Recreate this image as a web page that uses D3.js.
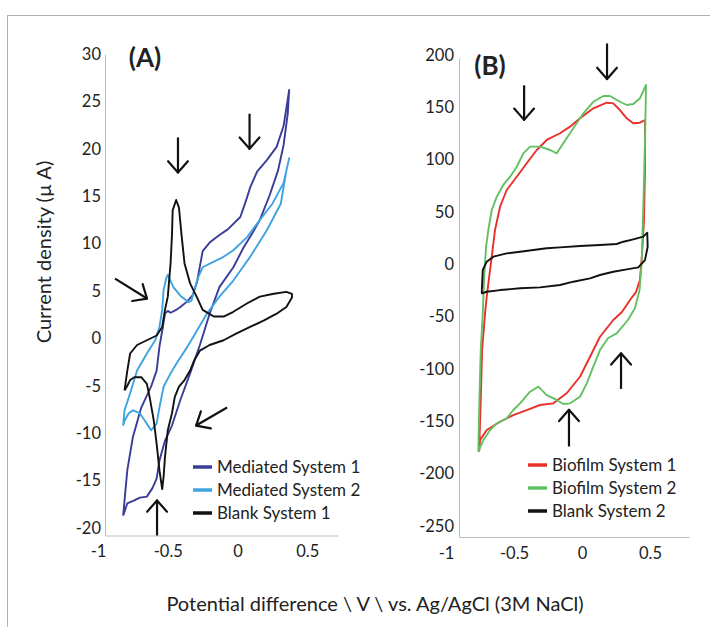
<!DOCTYPE html>
<html>
<head>
<meta charset="utf-8">
<script src="https://cdn.jsdelivr.net/npm/d3@7"></script>
<style>
  body { margin: 0; background: #fff; }
  svg text { font-family: Lato, "Open Sans", sans-serif; fill: #222; }
</style>
</head>
<body>
<svg id="chart" width="710" height="627"></svg>
<script>
// potential (V) vs current
const mediated1 = [
  [-0.82, -18.7], [-0.79, -13.9], [-0.75, -10.4], [-0.69, -7.3], [-0.62, -5.1], [-0.58, -3.4],
  [-0.56, -0.9], [-0.54, 0.8], [-0.52, 2.6], [-0.5, 2.9], [-0.48, 2.7], [-0.44, 3.0], [-0.41, 3.3],
  [-0.36, 3.9], [-0.32, 4.6], [-0.29, 6.0], [-0.27, 7.6], [-0.25, 9.2], [-0.2, 10.1], [-0.13, 10.9],
  [-0.07, 11.5], [0.02, 12.8], [0.06, 14.5], [0.09, 15.9], [0.14, 17.6], [0.21, 18.8], [0.28, 20.2],
  [0.33, 22.4], [0.37, 26.2],
  [0.36, 23.7], [0.33, 20.4], [0.29, 17.7], [0.23, 15.1], [0.16, 12.5], [0.11, 11.2], [0.04, 9.5],
  [-0.03, 7.5], [-0.13, 5.4], [-0.2, 2.6], [-0.27, -0.7], [-0.34, -3.7], [-0.41, -6.5], [-0.47, -9.2],
  [-0.52, -10.8], [-0.56, -12.9], [-0.58, -14.8], [-0.61, -15.8], [-0.65, -16.7], [-0.7, -16.8],
  [-0.74, -17.1], [-0.79, -17.4], [-0.82, -18.7]
];
const mediated2 = [
  [-0.82, -9.2], [-0.81, -7.6], [-0.77, -5.8], [-0.72, -3.4], [-0.65, -1.6], [-0.59, -0.2], [-0.56, 1.2],
  [-0.54, 3.0], [-0.53, 5.1], [-0.51, 6.4], [-0.5, 6.7], [-0.46, 5.4], [-0.41, 4.5], [-0.35, 3.8],
  [-0.33, 4.0], [-0.31, 5.1], [-0.28, 6.5], [-0.25, 7.5], [-0.17, 8.1], [-0.1, 8.6], [-0.03, 9.3],
  [0.07, 10.7], [0.16, 12.5], [0.25, 14.2], [0.33, 16.4], [0.37, 19.0],
  [0.35, 17.7], [0.31, 14.2], [0.21, 11.4], [0.09, 8.6], [-0.03, 6.1], [-0.13, 4.4], [-0.22, 2.6],
  [-0.32, 0.1], [-0.36, -0.9], [-0.44, -2.7], [-0.48, -3.7], [-0.53, -5.1], [-0.56, -7.3], [-0.58, -9.0],
  [-0.62, -9.7], [-0.65, -9.0], [-0.7, -7.9], [-0.75, -7.6], [-0.78, -7.9], [-0.81, -8.7], [-0.82, -9.2]
];
const blank1 = [
  [-0.81, -5.5], [-0.79, -3.4], [-0.77, -1.6], [-0.72, -0.7], [-0.65, -0.2], [-0.58, 0.3], [-0.54, 1.2],
  [-0.52, 3.0], [-0.5, 4.4], [-0.48, 7.9], [-0.47, 10.9], [-0.465, 13.5], [-0.44, 14.6], [-0.42, 13.8],
  [-0.4, 10.7], [-0.38, 7.9], [-0.34, 5.8], [-0.29, 4.3], [-0.25, 3.0], [-0.17, 2.3], [-0.1, 2.3],
  [-0.03, 2.8], [0.07, 3.7], [0.16, 4.4], [0.26, 4.7], [0.35, 4.9], [0.39, 4.7],
  [0.39, 4.3], [0.35, 3.3], [0.28, 2.6], [0.19, 1.9], [0.09, 1.2], [-0.01, 0.5], [-0.1, -0.2],
  [-0.2, -0.7], [-0.27, -1.3], [-0.31, -2.3], [-0.34, -3.4], [-0.38, -4.4], [-0.42, -5.1], [-0.45, -6.2],
  [-0.47, -7.9], [-0.5, -9.7], [-0.52, -12.5], [-0.53, -14.6], [-0.54, -15.9], [-0.56, -13.9],
  [-0.58, -11.1], [-0.6, -8.7], [-0.63, -6.2], [-0.65, -4.8], [-0.69, -4.1], [-0.74, -4.1],
  [-0.77, -4.4], [-0.79, -5.0], [-0.81, -5.5]
];
const biofilm1 = [
  [-0.757, -179], [-0.745, -129.6], [-0.735, -81.9], [-0.713, -46.5], [-0.701, -31], [-0.689, -18.2],
  [-0.664, 7.3], [-0.64, 32.8], [-0.603, 55], [-0.554, 71], [-0.48, 83.7], [-0.407, 96.5],
  [-0.333, 109.2], [-0.26, 118.8], [-0.162, 125.2], [-0.088, 131.5], [-0.015, 139.5], [0.083, 149],
  [0.182, 154.4], [0.23, 153.8], [0.279, 147.4], [0.329, 139.5], [0.377, 134.7], [0.426, 135.3],
  [0.463, 137.9],
  [0.463, 90], [0.456, 42.3], [0.441, 8.9], [0.426, -15], [0.397, -26.5], [0.353, -34.1],
  [0.294, -45.6], [0.23, -53.2], [0.132, -69.2], [0.059, -88.3], [-0.015, -107.4], [-0.113, -123.2],
  [-0.211, -132.8], [-0.309, -134.4], [-0.407, -139.2], [-0.505, -144], [-0.603, -150.4],
  [-0.701, -158.3], [-0.75, -167.9], [-0.757, -179]
];
const biofilm2 = [
  [-0.763, -179], [-0.755, -129.6], [-0.745, -81.9], [-0.73, -46.8], [-0.721, -15], [-0.706, 16.8],
  [-0.689, 32.8], [-0.664, 51.9], [-0.627, 64.6], [-0.579, 75.8], [-0.529, 83.7], [-0.48, 93.2],
  [-0.432, 106], [-0.382, 112.4], [-0.309, 112.4], [-0.235, 109.2], [-0.186, 106], [-0.138, 115.6],
  [-0.064, 129.9], [0.01, 144.3], [0.083, 155.3], [0.157, 160.8], [0.206, 160.8], [0.279, 155.3],
  [0.329, 152.2], [0.377, 153.1], [0.426, 158.6], [0.471, 171.3],
  [0.465, 128.3], [0.456, 80.5], [0.446, 32.8], [0.439, 1], [0.423, -24.6], [0.39, -41.8],
  [0.338, -53.2], [0.255, -65.9], [0.193, -70.4], [0.132, -81.9], [0.083, -97.8], [0.035, -113.7],
  [-0.015, -126.5], [-0.088, -132.8], [-0.138, -133.5], [-0.186, -129.6], [-0.26, -124.9],
  [-0.321, -116.9], [-0.382, -121.7], [-0.456, -132.8], [-0.505, -139.2], [-0.554, -147.1],
  [-0.627, -151.9], [-0.676, -158.3], [-0.726, -167.9], [-0.763, -179]
];
const blank2 = [
  [-0.737, -24.2], [-0.73, -5.4], [-0.701, 2.5], [-0.652, 7.3], [-0.554, 10.5], [-0.456, 12],
  [-0.358, 13.7], [-0.26, 15.3], [-0.162, 16.2], [-0.015, 17.5], [0.132, 18.4], [0.255, 19.4],
  [0.304, 21.6], [0.377, 23.9], [0.451, 26.4], [0.48, 30.2],
  [0.483, 16.8], [0.463, 4.1], [0.414, -2.9], [0.329, -4.8], [0.23, -7.1], [0.132, -10.2],
  [0.059, -13.4], [-0.064, -16.6], [-0.162, -19.8], [-0.309, -22], [-0.456, -22.9], [-0.603, -24.6],
  [-0.701, -26.2], [-0.737, -27.7], [-0.737, -24.2]
];

const xTicks = [-1, -0.5, 0, 0.5];
const yTicksA = [-20, -15, -10, -5, 0, 5, 10, 15, 20, 25, 30];
const yTicksB = [-250, -200, -150, -100, -50, 0, 50, 100, 150, 200];

const namesA = ["Mediated System 1", "Mediated System 2", "Blank System 1"];
const namesB = ["Biofilm System 1", "Biofilm System 2", "Blank System 2"];
const colorsA = ["#3a3c98", "#3fa3e0", "#111111"];
const colorsB = ["#e8302a", "#62c062", "#111111"];

// arrows marking the peaks: [x, y from, x, y to]
const arrowsA = [
  [-0.427, 21.2, -0.427, 17.5],
  [0.086, 23.7, 0.086, 20.0],
  [-0.878, 6.3, -0.649, 4.2],
  [-0.075, -7.3, -0.297, -9.2],
  [-0.577, -20.8, -0.577, -17.1]
];
const arrowsB = [
  [0.184, 211, 0.184, 177],
  [-0.426, 171, -0.426, 138],
  [-0.096, -174, -0.096, -139],
  [0.287, -119, 0.287, -85]
];

const svg = d3.select("#chart");

svg.append("rect")
  .attr("x", 7.5).attr("y", 15.5)
  .attr("width", 760).attr("height", 700)
  .attr("fill", "none").attr("stroke", "#b0b0b0");

function drawPanel(p) {
  const x = d3.scaleLinear().domain(p.xDomain).range(p.xRange);
  const y = d3.scaleLinear().domain(p.yDomain).range(p.yRange);
  const g = svg.append("g");

  const xAxis = d3.axisBottom(x).tickValues(xTicks).tickFormat((d) => String(d)).tickSize(0).tickPadding(10);
  const yAxis = d3.axisLeft(y).tickValues(p.yTicks).tickFormat((d) => String(d)).tickSize(0).tickPadding(p.yPad);

  g.append("g").attr("transform", `translate(0,${p.yRange[0]})`).call(xAxis);
  g.append("g").attr("transform", `translate(${p.xRange[0]},0)`).call(yAxis);
  g.selectAll(".domain").attr("stroke", "#bdbdbd");
  g.selectAll(".tick text").attr("font-family", "Lato, sans-serif").attr("font-size", 16.5).attr("fill", "#222");

  const line = d3.line().x((d) => x(d[0])).y((d) => y(d[1]));

  p.series.forEach((s, i) => {
    g.append("path")
      .datum(s)
      .attr("d", line)
      .attr("fill", "none")
      .attr("stroke", p.colors[i])
      .attr("stroke-width", 1.9)
      .attr("stroke-linejoin", "round");
  });

  p.arrows.forEach((a) => {
    const x1 = x(a[0]), y1 = y(a[1]), x2 = x(a[2]), y2 = y(a[3]);
    const ang = Math.atan2(y2 - y1, x2 - x1);
    const headLen = 15, spread = 0.72;
    g.append("line").attr("x1", x1).attr("y1", y1).attr("x2", x2).attr("y2", y2)
      .attr("stroke", "#111").attr("stroke-width", 2.2);
    [-1, 1].forEach((sgn) => {
      g.append("line")
        .attr("x1", x2).attr("y1", y2)
        .attr("x2", x2 - headLen * Math.cos(ang + sgn * spread))
        .attr("y2", y2 - headLen * Math.sin(ang + sgn * spread))
        .attr("stroke", "#111").attr("stroke-width", 2.2).attr("stroke-linecap", "round");
    });
  });

  const legend = g.append("g");
  p.names.forEach((n, i) => {
    const ly = p.legendY + i * 23;
    legend.append("line")
      .attr("x1", p.legendX).attr("x2", p.legendX + 19)
      .attr("y1", ly).attr("y2", ly)
      .attr("stroke", p.colors[i]).attr("stroke-width", 3.5);
    legend.append("text")
      .attr("x", p.legendX + 24).attr("y", ly)
      .attr("dy", "0.36em")
      .attr("font-size", 17)
      .text(n);
  });

  g.append("text")
    .attr("x", p.tagX).attr("y", p.tagY)
    .attr("text-anchor", "middle")
    .attr("dy", "0.36em")
    .attr("font-family", "'Open Sans', sans-serif")
    .attr("font-weight", "bold")
    .attr("font-size", 26)
    .text(p.tag);
}

drawPanel({
  xDomain: [-0.95, 0.72], xRange: [105, 338],
  yDomain: [-20.8, 30], yRange: [535.5, 54],
  yTicks: yTicksA, yPad: 4,
  series: [mediated1, mediated2, blank1],
  colors: colorsA, names: namesA,
  arrows: arrowsA,
  legendX: 193, legendY: 467,
  tag: "(A)", tagX: 145, tagY: 58
});

drawPanel({
  xDomain: [-0.905, 0.787], xRange: [459, 689],
  yDomain: [-260.5, 197.1], yRange: [537, 58],
  yTicks: yTicksB, yPad: 5,
  series: [biofilm1, biofilm2, blank2],
  colors: colorsB, names: namesB,
  arrows: arrowsB,
  legendX: 528, legendY: 465,
  tag: "(B)", tagX: 490, tagY: 66
});

svg.append("text")
  .attr("transform", "translate(44,252) rotate(-90)")
  .attr("text-anchor", "middle")
  .attr("dy", "0.36em")
  .attr("font-size", 20)
  .text("Current density (\u00b5 A)");

svg.append("text")
  .attr("x", 375).attr("y", 604)
  .attr("text-anchor", "middle")
  .attr("dy", "0.36em")
  .attr("font-size", 20)
  .text("Potential difference \\ V \\ vs. Ag/AgCl (3M NaCl)");
</script>
</body>
</html>
